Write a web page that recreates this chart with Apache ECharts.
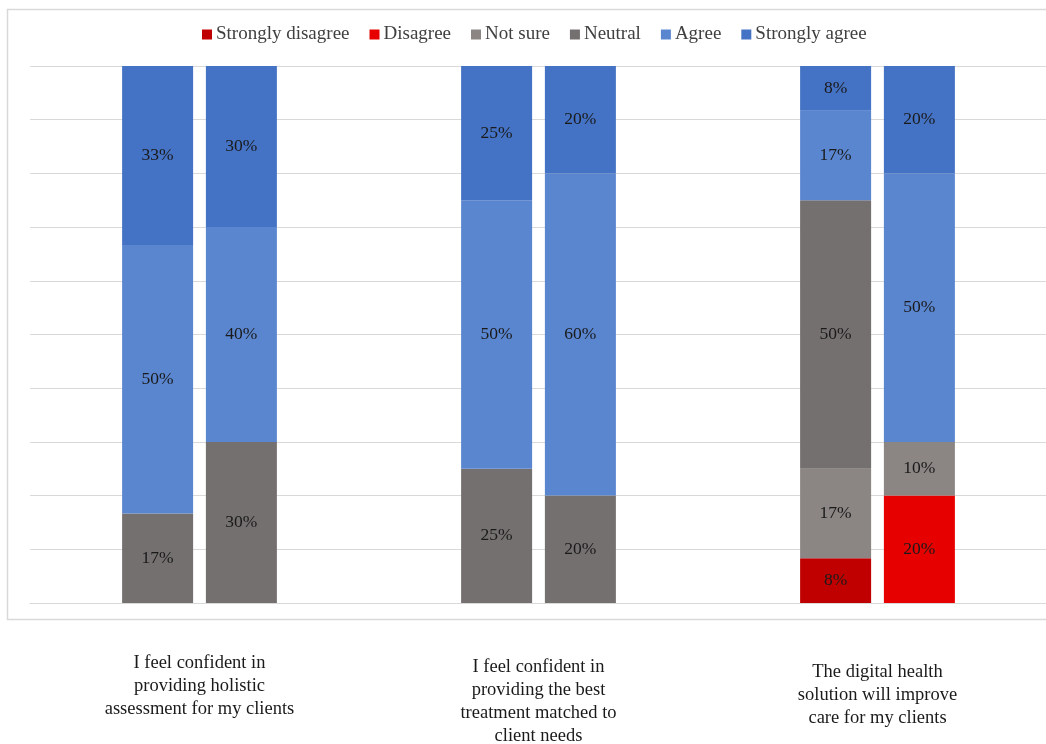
<!DOCTYPE html>
<html lang="en">
<head>
  <meta charset="UTF-8" />
  <title>Confidence survey · stacked bars</title>
  <script src="https://cdn.jsdelivr.net/npm/echarts@6/dist/echarts.min.js"></script>
  <style>
    html, body { margin:0; padding:0; width:100%; height:100%; background:#fff; overflow:hidden; }
    #chart { position:absolute; left:0; top:0; width:1046px; height:744px; }
  </style>
</head>
<body>
<div id="chart"></div>
<script>
/* ==== data ==== */
const categories = [
  'I feel confident in\nproviding holistic\nassessment for my clients',
  'I feel confident in\nproviding the best\ntreatment matched to\nclient needs',
  'The digital health\nsolution will improve\ncare for my clients'
];
const responses = ['Strongly disagree','Disagree','Not sure','Neutral','Agree','Strongly agree'];
const colors    = ['#c00000','#e60000','#8b8584','#757070','#5a86d0','#4472c4'];

// first bar of each pair
const barA = {
  'Strongly disagree': [0, 0, 8.33],
  'Disagree':          [0, 0, 0],
  'Not sure':          [0, 0, 16.67],
  'Neutral':           [16.67, 25, 50],
  'Agree':             [50, 50, 16.67],
  'Strongly agree':    [33.33, 25, 8.33]
};
// second bar of each pair
const barB = {
  'Strongly disagree': [0, 0, 0],
  'Disagree':          [0, 0, 20],
  'Not sure':          [0, 0, 10],
  'Neutral':           [30, 20, 0],
  'Agree':             [40, 60, 50],
  'Strongly agree':    [30, 20, 20]
};

// small per-label top shift so the captions sit like the original
const captionShift = [0, 4, 9];

const serif = "'Liberation Serif','Times New Roman',serif";

function makeSeries(stack, src){
  return responses.map((name,i)=>({
    name, type:'bar', stack,
    barWidth:71, barGap:'18%',
    itemStyle:{ color:colors[i] },
    label:{
      show:true, position:'inside',
      fontFamily:serif, fontSize:17.5, color:'#1a1a1a',
      formatter:p=>Math.round(p.value)+'%'
    },
    data:src[name].map(v=>v===0?'-':v)
  }));
}

const chart = echarts.init(document.getElementById('chart'));
chart.setOption({
  animation:false,
  color:colors,
  legend:{
    top:20, left:197,
    itemWidth:10, itemHeight:10, itemGap:20,
    icon:'rect',
    textStyle:{ fontFamily:serif, fontSize:19, color:'#404040', padding:[0,0,0,-1] },
    data:responses
  },
  graphic:[{
    type:'rect', silent:true, z:-1,
    shape:{ x:7.5, y:9.5, width:1060, height:610 },
    style:{ fill:'none', stroke:'#d9d9d9', lineWidth:1.5 }
  }],
  grid:{ left:30, top:66, width:1017, height:537, containLabel:false, outerBoundsMode:'none' },
  xAxis:{
    type:'category',
    data:categories.map((c,i)=>({ value:c, textStyle:{ padding:[captionShift[i],0,0,0] } })),
    axisLine:{ lineStyle:{ color:'#d9d9d9' } },
    axisTick:{ show:false },
    axisLabel:{
      interval:0, margin:49, verticalAlign:'top',
      fontFamily:serif, fontSize:18.5, color:'#1a1a1a', lineHeight:23, align:'center'
    }
  },
  yAxis:{
    type:'value', min:0, max:100, interval:10,
    axisLabel:{ show:false },
    axisLine:{ show:false }, axisTick:{ show:false },
    splitLine:{ lineStyle:{ color:'#d9d9d9', width:1 } }
  },
  series:[...makeSeries('a', barA), ...makeSeries('b', barB)]
});
</script>
</body>
</html>
